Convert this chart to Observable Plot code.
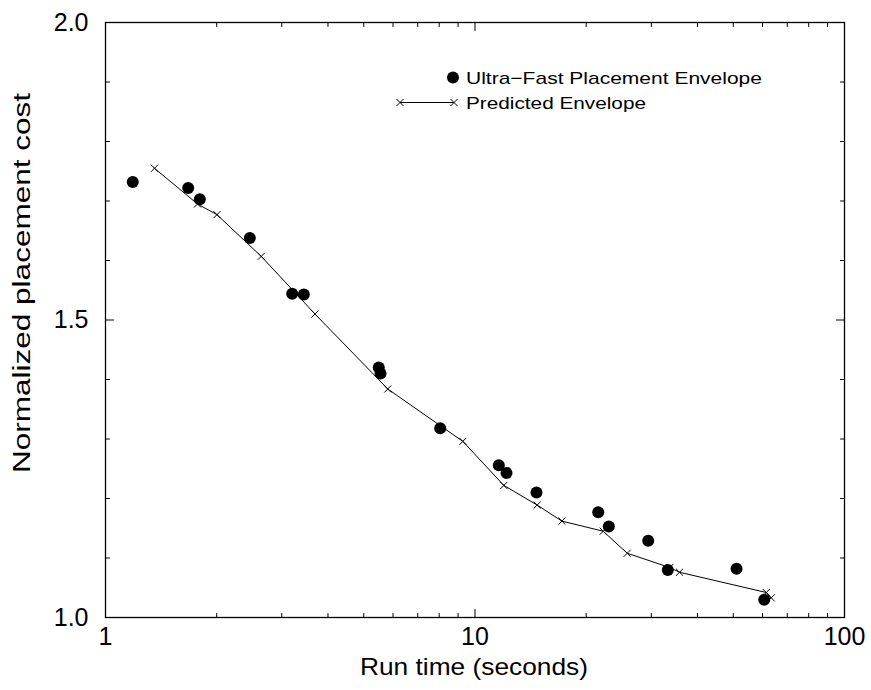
<!DOCTYPE html>
<html>
<head>
<meta charset="utf-8">
<script src="https://cdn.jsdelivr.net/npm/d3@7"></script>
<script src="https://cdn.jsdelivr.net/npm/@observablehq/plot@0.6"></script>
<style>
  html, body { margin: 0; padding: 0; background: white; }
  #chart { position: relative; width: 871px; height: 690px; }
</style>
</head>
<body>
<div id="chart"></div>
<script>
// Ultra-Fast Placement Envelope (run time s, normalized cost)
const ufpTime = [1.185, 1.674, 1.800, 2.458, 3.201, 3.441, 5.49, 5.55, 8.05, 11.60, 12.17, 14.67, 21.55, 23.02, 29.43, 33.25, 51.03, 60.64];
const ufpCost = [1.732, 1.722, 1.703, 1.638, 1.544, 1.543, 1.420, 1.410, 1.318, 1.256, 1.243, 1.210, 1.177, 1.153, 1.129, 1.080, 1.082, 1.030];

// Predicted Envelope
const predTime = [1.357, 1.774, 2.003, 2.639, 3.690, 5.808, 9.27, 11.97, 14.73, 17.19, 22.23, 25.82, 33.66, 35.77, 61.4, 63.35];
const predCost = [1.755, 1.695, 1.677, 1.607, 1.510, 1.384, 1.296, 1.222, 1.189, 1.162, 1.145, 1.108, 1.084, 1.076, 1.042, 1.033];

// Axis ticks
const xLabelTicks = [1, 10, 100];
const xMinorTicks = [2, 3, 4, 5, 6, 7, 8, 9, 20, 30, 40, 50, 60, 70, 80, 90];
const yLabelTicks = [1.0, 1.5, 2.0];
const yMinorTicks = [1.1, 1.2, 1.3, 1.4, 1.6, 1.7, 1.8, 1.9];

const seriesNames = ["Ultra\u2212Fast Placement Envelope", "Predicted Envelope"];
const xTitle = "Run time (seconds)";
const yTitle = "Normalized placement cost";

const ufp = ufpTime.map((t, i) => ({time: t, cost: ufpCost[i]}));
const pred = predTime.map((t, i) => ({time: t, cost: predCost[i]}));

const FONT = "'Liberation Sans', Arial, Helvetica, sans-serif";
const tickShape = {draw(ctx, l) { ctx.moveTo(0, 0); ctx.lineTo(0, -l); }};
const tickOpts = (len) => ({length: len, anchor: "start", shape: tickShape, stroke: "black", strokeWidth: 1});

const plot = Plot.plot({
  width: 871,
  height: 690,
  marginLeft: 105,
  marginRight: 27,
  marginTop: 22,
  marginBottom: 73,
  style: {fontFamily: FONT, fontSize: "25px", background: "white", color: "black"},
  x: {type: "log", domain: [1, 100]},
  y: {domain: [1.0, 2.0]},
  marks: [
    Plot.axisX({ticks: xLabelTicks, tickSize: 0, tickPadding: 10, tickFormat: d => String(d), label: null, fontSize: 25}),
    Plot.axisY({ticks: yLabelTicks, tickSize: 0, tickPadding: 17, tickFormat: d => d.toFixed(1), label: null, fontSize: 25}),
    // inward ticks on all four sides
    Plot.vector(xLabelTicks, {x: d => d, frameAnchor: "bottom", rotate: 0, ...tickOpts(8)}),
    Plot.vector(xMinorTicks, {x: d => d, frameAnchor: "bottom", rotate: 0, ...tickOpts(4)}),
    Plot.vector(xLabelTicks, {x: d => d, frameAnchor: "top", rotate: 180, ...tickOpts(8)}),
    Plot.vector(xMinorTicks, {x: d => d, frameAnchor: "top", rotate: 180, ...tickOpts(4)}),
    Plot.vector(yLabelTicks, {y: d => d, frameAnchor: "left", rotate: 90, ...tickOpts(8)}),
    Plot.vector(yMinorTicks, {y: d => d, frameAnchor: "left", rotate: 90, ...tickOpts(4)}),
    Plot.vector(yLabelTicks, {y: d => d, frameAnchor: "right", rotate: -90, ...tickOpts(8)}),
    Plot.vector(yMinorTicks, {y: d => d, frameAnchor: "right", rotate: -90, ...tickOpts(4)}),
    Plot.frame({stroke: "black", strokeWidth: 1.3}),
    Plot.line(pred, {x: "time", y: "cost", stroke: "black", strokeWidth: 1}),
    Plot.dot(pred, {x: "time", y: "cost", symbol: "times", r: 3.3, stroke: "black", strokeWidth: 1}),
    Plot.dot(ufp, {x: "time", y: "cost", r: 6, fill: "black", stroke: "none"})
  ]
});

document.getElementById("chart").appendChild(plot);

// Titles and legend (decorations)
const svg = d3.select(plot);
svg.append("text")
  .attr("x", 474).attr("y", 675)
  .attr("text-anchor", "middle")
  .attr("font-family", FONT).attr("font-size", 24).attr("fill", "black")
  .attr("textLength", 228).attr("lengthAdjust", "spacingAndGlyphs")
  .text(xTitle);
svg.append("text")
  .attr("transform", "translate(30,283) rotate(-90)")
  .attr("text-anchor", "middle")
  .attr("font-family", FONT).attr("font-size", 23).attr("fill", "black")
  .attr("textLength", 380).attr("lengthAdjust", "spacingAndGlyphs")
  .text(yTitle);

const leg = svg.append("g").attr("font-family", FONT).attr("font-size", 17)
  .attr("fill", "black").attr("text-anchor", "start");
leg.append("circle").attr("cx", 453).attr("cy", 77.5).attr("r", 6).attr("fill", "black");
leg.append("text").attr("x", 466).attr("y", 84).attr("text-anchor", "start")
  .attr("textLength", 296).attr("lengthAdjust", "spacingAndGlyphs").text(seriesNames[0]);
leg.append("line").attr("x1", 400).attr("x2", 454).attr("y1", 102.5).attr("y2", 102.5)
  .attr("stroke", "black").attr("stroke-width", 1);
const cross = d3.symbol(d3.symbolTimes, Math.PI * 3.3 * 3.3)();
[400, 454].forEach(cx => leg.append("path").attr("d", cross)
  .attr("transform", `translate(${cx},102.5)`).attr("fill", "none").attr("stroke", "black"));
leg.append("text").attr("x", 466).attr("y", 108.5).attr("text-anchor", "start")
  .attr("textLength", 180).attr("lengthAdjust", "spacingAndGlyphs").text(seriesNames[1]);
</script>
</body>
</html>
